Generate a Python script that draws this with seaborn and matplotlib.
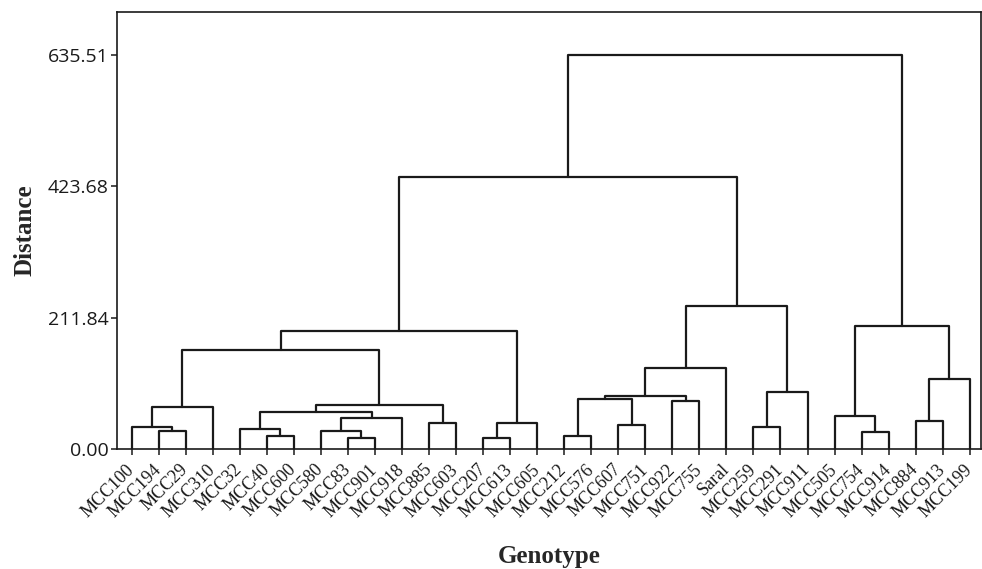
import numpy as np
import pandas as pd
import matplotlib
matplotlib.use("Agg")
import matplotlib.pyplot as plt
import seaborn as sns

# Leaf order along the x axis
genotypes = ["MCC100", "MCC194", "MCC29", "MCC310", "MCC32", "MCC40", "MCC600",
             "MCC580", "MCC83", "MCC901", "MCC918", "MCC885", "MCC603", "MCC207",
             "MCC613", "MCC605", "MCC212", "MCC576", "MCC607", "MCC751", "MCC922",
             "MCC755", "Saral", "MCC259", "MCC291", "MCC911", "MCC505", "MCC754",
             "MCC914", "MCC884", "MCC913", "MCC199"]

# Agglomeration steps: children are leaf indices (< 32) or 32 + earlier step
merge_left = [1, 0, 33, 5, 4, 8, 7, 38, 36, 11, 40, 34, 13, 44, 43,
              16, 18, 47, 20, 49, 51, 23, 53, 52, 46, 27, 26, 29, 59, 58, 56]
merge_right = [2, 32, 3, 6, 35, 9, 37, 10, 39, 12, 41, 42, 14, 15, 45,
               17, 19, 48, 21, 50, 22, 24, 25, 54, 55, 28, 57, 30, 31, 60, 61]
merge_dist = [29.5, 35.9, 68.2, 20.9, 32.8, 18.3, 29.5, 50.5, 59.6, 42.2, 71.4,
              160.0, 18.3, 41.9, 190.0, 20.9, 38.7, 80.0, 77.3, 85.9, 130.0,
              35.9, 92.3, 230.8, 438.6, 26.8, 53.7, 44.5, 112.8, 198.6, 635.51]

dist_ticks = [0.00, 211.84, 423.68, 635.51]

# Build the U-shaped links of the dendrogram
n_leaves = len(genotypes)
node_x = {i: float(i) for i in range(n_leaves)}
node_h = {i: 0.0 for i in range(n_leaves)}
rows = []
for k, (a, b, d) in enumerate(zip(merge_left, merge_right, merge_dist)):
    xs = [node_x[a], node_x[a], node_x[b], node_x[b]]
    ys = [node_h[a], d, d, node_h[b]]
    for j, (xx, yy) in enumerate(zip(xs, ys)):
        rows.append({"link": k, "step": j, "x": xx, "y": yy})
    node_x[n_leaves + k] = (node_x[a] + node_x[b]) / 2.0
    node_h[n_leaves + k] = d
links = pd.DataFrame(rows)

sns.set_style("ticks")
plt.rcParams["font.family"] = ["Liberation Serif", "DejaVu Serif"]

fig = plt.figure(figsize=(9.82, 5.69), dpi=100)
ax = fig.add_axes([0.1188, 0.2109, 0.8802, 0.768])

sns.lineplot(data=links, x="x", y="y", units="link", estimator=None, sort=False,
             color="#1a1a1a", linewidth=1.6, ax=ax, legend=False)

ax.set_xlim(-0.555, n_leaves - 1 + 0.418)
ax.set_ylim(0, 705)

ax.set_xticks(range(n_leaves))
ax.set_xticklabels(genotypes, rotation=45, ha="right", va="center",
                   rotation_mode="anchor", fontsize=13, color="#1a1a1a")
ax.set_yticks(dist_ticks)
ax.set_yticklabels([f"{v:.2f}" for v in dist_ticks], fontsize=14, color="#1a1a1a",
                   family=["Open Sans", "DejaVu Sans"])
ax.tick_params(axis="x", direction="out", length=4, width=1.1, pad=9, color="#1a1a1a")
ax.tick_params(axis="y", direction="out", length=4, width=1.1, pad=2, color="#1a1a1a")

for side in ["left", "right", "top", "bottom"]:
    ax.spines[side].set_visible(True)
    ax.spines[side].set_linewidth(1.2)
    ax.spines[side].set_color("#1a1a1a")

ax.set_xlabel("Genotype", fontsize=18, fontweight="bold", va="top")
ax.xaxis.set_label_coords(0.5, -0.219)
ax.set_ylabel("Distance", fontsize=18, fontweight="bold", va="center")
ax.yaxis.set_label_coords(-0.106, 0.5)

fig.savefig("out.png", dpi=100)
